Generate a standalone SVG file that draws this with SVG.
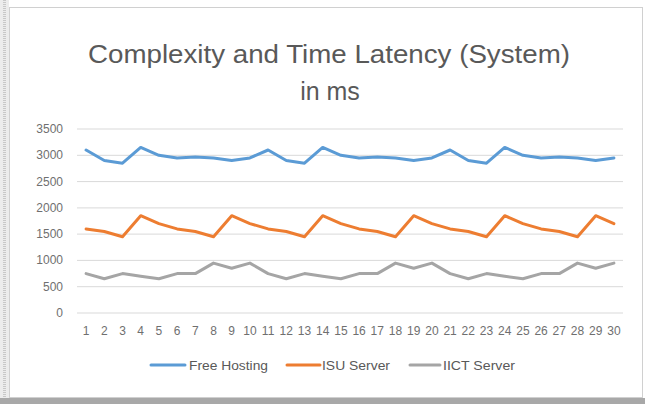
<svg xmlns="http://www.w3.org/2000/svg" width="645" height="404" viewBox="0 0 645 404">
<style>
.t{font-family:"Liberation Sans",Arial,sans-serif;fill:#595959}
.ax{font-size:12px;fill:#6f6f6f}
.grid{stroke:#d9d9d9;stroke-width:1}
.s{fill:none;stroke-width:3;stroke-linejoin:round;stroke-linecap:round}
.b{stroke:#5b9bd5}
.o{stroke:#ed7d31}
.g{stroke:#a5a5a5}
</style>
<rect width="645" height="404" fill="#ffffff"/>
<rect x="0" y="0" width="9" height="404" fill="#ececec"/>
<line x1="4.5" y1="0" x2="4.5" y2="404" stroke="#c8c8c8" stroke-width="3" stroke-dasharray="1 1"/>
<rect x="0" y="398" width="645" height="6" fill="#a8a8a8"/>
<rect x="9.5" y="7.5" width="633" height="390" fill="#ffffff" stroke="#d0d0d0"/>
<g id="title">
<text class="t" x="329" y="63" font-size="25" text-anchor="middle" textLength="482" lengthAdjust="spacingAndGlyphs">Complexity and Time Latency (System)</text>
<text class="t" x="330" y="100" font-size="25" text-anchor="middle">in ms</text>
</g>
<g id="gridlines">
<line class="grid" x1="77" y1="313" x2="623" y2="313"/>
<line class="grid" x1="77" y1="286.7" x2="623" y2="286.7"/>
<line class="grid" x1="77" y1="260.4" x2="623" y2="260.4"/>
<line class="grid" x1="77" y1="234.1" x2="623" y2="234.1"/>
<line class="grid" x1="77" y1="207.9" x2="623" y2="207.9"/>
<line class="grid" x1="77" y1="181.6" x2="623" y2="181.6"/>
<line class="grid" x1="77" y1="155.3" x2="623" y2="155.3"/>
<line class="grid" x1="77" y1="129" x2="623" y2="129"/>
</g>
<g id="y-axis" class="t ax" text-anchor="end">
<text x="63" y="317">0</text>
<text x="63" y="290.7">500</text>
<text x="63" y="264.4">1000</text>
<text x="63" y="238.1">1500</text>
<text x="63" y="211.9">2000</text>
<text x="63" y="185.6">2500</text>
<text x="63" y="159.3">3000</text>
<text x="63" y="133">3500</text>
</g>
<g id="x-axis" class="t ax" text-anchor="middle">
<text x="86.1" y="335">1</text>
<text x="104.3" y="335">2</text>
<text x="122.5" y="335">3</text>
<text x="140.7" y="335">4</text>
<text x="158.9" y="335">5</text>
<text x="177.1" y="335">6</text>
<text x="195.3" y="335">7</text>
<text x="213.5" y="335">8</text>
<text x="231.7" y="335">9</text>
<text x="249.9" y="335">10</text>
<text x="268.1" y="335">11</text>
<text x="286.3" y="335">12</text>
<text x="304.5" y="335">13</text>
<text x="322.7" y="335">14</text>
<text x="340.9" y="335">15</text>
<text x="359.1" y="335">16</text>
<text x="377.3" y="335">17</text>
<text x="395.5" y="335">18</text>
<text x="413.7" y="335">19</text>
<text x="431.9" y="335">20</text>
<text x="450.1" y="335">21</text>
<text x="468.3" y="335">22</text>
<text x="486.5" y="335">23</text>
<text x="504.7" y="335">24</text>
<text x="522.9" y="335">25</text>
<text x="541.1" y="335">26</text>
<text x="559.3" y="335">27</text>
<text x="577.5" y="335">28</text>
<text x="595.7" y="335">29</text>
<text x="613.9" y="335">30</text>
</g>
<g id="series">
<polyline id="free-hosting" class="s b" points="86.1,150.0 104.3,160.5 122.5,163.2 140.7,147.4 158.9,155.3 177.1,157.9 195.3,156.9 213.5,157.9 231.7,160.5 249.9,157.9 268.1,150.0 286.3,160.5 304.5,163.2 322.7,147.4 340.9,155.3 359.1,157.9 377.3,156.9 395.5,157.9 413.7,160.5 431.9,157.9 450.1,150.0 468.3,160.5 486.5,163.2 504.7,147.4 522.9,155.3 541.1,157.9 559.3,156.9 577.5,157.9 595.7,160.5 613.9,157.9"/>
<polyline id="isu-server" class="s o" points="86.1,228.9 104.3,231.5 122.5,236.8 140.7,215.7 158.9,223.6 177.1,228.9 195.3,231.5 213.5,236.8 231.7,215.7 249.9,223.6 268.1,228.9 286.3,231.5 304.5,236.8 322.7,215.7 340.9,223.6 359.1,228.9 377.3,231.5 395.5,236.8 413.7,215.7 431.9,223.6 450.1,228.9 468.3,231.5 486.5,236.8 504.7,215.7 522.9,223.6 541.1,228.9 559.3,231.5 577.5,236.8 595.7,215.7 613.9,223.6"/>
<polyline id="iict-server" class="s g" points="86.1,273.6 104.3,278.8 122.5,273.6 140.7,276.2 158.9,278.8 177.1,273.6 195.3,273.6 213.5,263.1 231.7,268.3 249.9,263.1 268.1,273.6 286.3,278.8 304.5,273.6 322.7,276.2 340.9,278.8 359.1,273.6 377.3,273.6 395.5,263.1 413.7,268.3 431.9,263.1 450.1,273.6 468.3,278.8 486.5,273.6 504.7,276.2 522.9,278.8 541.1,273.6 559.3,273.6 577.5,263.1 595.7,268.3 613.9,263.1"/>
</g>
<g id="legend">
<line class="s b" x1="151" y1="365" x2="185" y2="365" stroke-linecap="butt"/>
<text class="t" x="189" y="369.5" font-size="12" textLength="79" lengthAdjust="spacingAndGlyphs">Free Hosting</text>
<line class="s o" x1="287" y1="365" x2="320" y2="365" stroke-linecap="butt"/>
<text class="t" x="322" y="369.5" font-size="12" textLength="68" lengthAdjust="spacingAndGlyphs">ISU Server</text>
<line class="s g" x1="410" y1="365" x2="440" y2="365" stroke-linecap="butt"/>
<text class="t" x="443" y="369.5" font-size="12" textLength="72" lengthAdjust="spacingAndGlyphs">IICT Server</text>
</g>
</svg>
